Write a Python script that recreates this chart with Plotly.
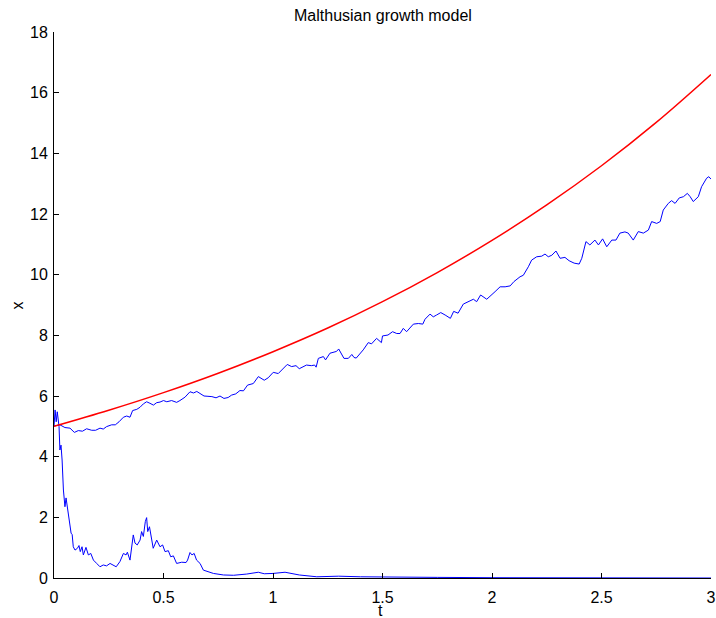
import plotly.graph_objects as go

# Deterministic solution (red)
t_det = [0, 0.25, 0.5, 0.75, 1.0, 1.25, 1.5, 1.75, 2.0, 2.25, 2.5, 2.75, 3.0]
x_det = [5.0, 5.53, 6.11, 6.75, 7.46, 8.24, 9.11, 10.07, 11.13, 12.30, 13.59, 15.02, 16.60]

# Stochastic path 1 (upper, blue)
t_up = [0, 0.027, 0.05, 0.073, 0.093, 0.111, 0.13, 0.149, 0.172, 0.19, 0.21, 0.225,
        0.24, 0.263, 0.28, 0.297, 0.317, 0.332, 0.347, 0.359, 0.378, 0.393, 0.408,
        0.423, 0.438, 0.454, 0.469, 0.484, 0.5, 0.515, 0.537, 0.56, 0.575, 0.598,
        0.621, 0.637, 0.652, 0.668, 0.685, 0.703, 0.721, 0.74, 0.758, 0.776, 0.795,
        0.811, 0.83, 0.849, 0.865, 0.884, 0.91, 0.933, 0.948, 0.96, 0.978, 1.001,
        1.024, 1.047, 1.065, 1.085, 1.105, 1.12, 1.153, 1.175, 1.19, 1.197, 1.207,
        1.23, 1.24, 1.26, 1.29, 1.3, 1.324, 1.344, 1.36, 1.37, 1.38, 1.412, 1.435,
        1.45, 1.473, 1.495, 1.5, 1.525, 1.546, 1.565, 1.58, 1.595, 1.61, 1.641,
        1.664, 1.684, 1.694, 1.717, 1.732, 1.747, 1.766, 1.786, 1.81, 1.825, 1.845,
        1.869, 1.892, 1.915, 1.93, 1.948, 1.976, 1.999, 2.014, 2.037, 2.06, 2.083,
        2.1, 2.128, 2.143, 2.166, 2.181, 2.204, 2.227, 2.242, 2.257, 2.273, 2.292,
        2.311, 2.333, 2.352, 2.375, 2.398, 2.41, 2.429, 2.447, 2.47, 2.486, 2.505,
        2.524, 2.547, 2.566, 2.584, 2.607, 2.622, 2.645, 2.668, 2.691, 2.714, 2.729,
        2.752, 2.768, 2.782, 2.805, 2.82, 2.836, 2.855, 2.874, 2.892, 2.905, 2.919,
        2.942, 2.957, 2.98, 2.99, 3.0]
x_up = [5.01, 5.05, 4.96, 4.94, 4.80, 4.86, 4.84, 4.92, 4.87, 4.87, 4.94, 4.91,
        4.99, 5.05, 5.05, 5.15, 5.30, 5.34, 5.30, 5.52, 5.56, 5.63, 5.74,
        5.81, 5.76, 5.70, 5.78, 5.80, 5.85, 5.81, 5.85, 5.79, 5.85, 5.96,
        6.14, 6.10, 6.15, 6.07, 6.00, 5.99, 5.98, 5.94, 6.00, 5.92, 5.95,
        6.03, 6.07, 6.18, 6.17, 6.36, 6.41, 6.64, 6.57, 6.52, 6.60, 6.78,
        6.74, 6.91, 7.04, 6.97, 7.00, 6.90, 7.02, 7.00, 7.02, 6.95, 7.24,
        7.30, 7.19, 7.41, 7.47, 7.55, 7.24, 7.24, 7.37, 7.27, 7.25, 7.52, 7.76,
        7.72, 7.90, 7.76, 7.98, 8.01, 8.12, 8.06, 8.06, 8.23, 8.12, 8.37,
        8.39, 8.37, 8.53, 8.70, 8.61, 8.67, 8.75, 8.67, 8.56, 8.79, 8.73,
        9.03, 9.10, 9.19, 9.11, 9.33, 9.19, 9.33, 9.44, 9.60, 9.60, 9.63,
        9.77, 9.93, 9.98, 10.26, 10.48, 10.59, 10.61, 10.68, 10.59, 10.64, 10.78,
        10.54, 10.57, 10.46, 10.38, 10.35, 10.54, 11.09, 10.98, 11.14, 10.98, 11.18,
        10.92, 11.14, 11.14, 11.37, 11.41, 11.37, 11.14, 11.42, 11.37, 11.47, 11.75,
        11.69, 11.75, 12.13, 12.35, 12.44, 12.35, 12.53, 12.57, 12.68, 12.57, 12.41,
        12.57, 12.90, 13.18, 13.23, 13.15]

# Stochastic path 2 (lower, blue)
t_lo = [0, 0.005, 0.01, 0.015, 0.023, 0.027, 0.032, 0.037, 0.043, 0.05, 0.055,
        0.061, 0.068, 0.078, 0.083, 0.088, 0.096, 0.107, 0.114, 0.12, 0.128, 0.134,
        0.146, 0.157, 0.168, 0.18, 0.195, 0.21, 0.225, 0.24, 0.256, 0.271, 0.284,
        0.301, 0.317, 0.329, 0.335, 0.347, 0.362, 0.37, 0.38, 0.393, 0.4, 0.408,
        0.412, 0.417, 0.423, 0.428, 0.436, 0.446, 0.453, 0.469, 0.484, 0.496, 0.507,
        0.522, 0.533, 0.545, 0.56, 0.583, 0.603, 0.61, 0.621, 0.63, 0.64, 0.651,
        0.667, 0.682, 0.705, 0.728, 0.774, 0.82, 0.88, 0.933, 0.96, 1.0, 1.055,
        1.12, 1.2, 1.26, 1.3, 1.4, 1.5, 1.75, 2.0, 2.5, 3.0]
x_lo = [5.0, 5.54, 5.15, 5.48, 4.99, 4.22, 4.38, 3.89, 2.90, 2.35, 2.64,
        2.31, 2.02, 1.48, 1.43, 1.03, 0.92, 0.98, 1.07, 0.87, 1.03, 0.76,
        1.01, 0.76, 0.81, 0.59, 0.48, 0.37, 0.43, 0.40, 0.48, 0.41, 0.37,
        0.54, 0.81, 0.76, 0.85, 0.59, 1.42, 1.15, 1.09, 1.25, 1.53, 1.37,
        1.69, 1.86, 1.99, 1.53, 1.69, 1.25, 0.98, 1.25, 1.03, 1.09, 0.87,
        0.90, 0.70, 0.73, 0.48, 0.52, 0.51, 0.59, 0.84, 0.76, 0.81, 0.59,
        0.48, 0.26, 0.21, 0.15, 0.10, 0.09, 0.13, 0.19, 0.14, 0.15, 0.19,
        0.10, 0.04, 0.06, 0.06, 0.04, 0.03, 0.02, 0.01, 0.005, 0.0]

x_ticks = [0, 0.5, 1, 1.5, 2, 2.5, 3]
x_ticklabels = ["0", "0.5", "1", "1.5", "2", "2.5", "3"]
y_ticks = [0, 2, 4, 6, 8, 10, 12, 14, 16, 18]
y_ticklabels = ["0", "2", "4", "6", "8", "10", "12", "14", "16", "18"]

FONT = "Liberation Sans, Arial, sans-serif"
FS = 16

fig = go.Figure()
fig.add_trace(go.Scatter(x=t_up, y=x_up, mode="lines",
                         line=dict(color="#0000FF", width=1), showlegend=False))
fig.add_trace(go.Scatter(x=t_lo, y=x_lo, mode="lines",
                         line=dict(color="#0000FF", width=1), showlegend=False))
fig.add_trace(go.Scatter(x=t_det, y=x_det, mode="lines",
                         line=dict(color="#FF0000", width=1.5, shape="spline"),
                         showlegend=False))

axis_common = dict(showgrid=False, zeroline=False, showline=True, linecolor="#000000",
                   linewidth=1, ticks="inside", ticklen=5, tickcolor="#000000",
                   automargin=False,
                   tickfont=dict(family=FONT, size=FS, color="#000000"), mirror=False)

fig.update_layout(
    width=716, height=618,
    margin=dict(l=54, r=5, t=32, b=40, pad=0, autoexpand=False),
    paper_bgcolor="white", plot_bgcolor="white",
    font=dict(family=FONT, color="#000000"),
    xaxis=dict(range=[0, 3], tickmode="array", tickvals=x_ticks,
               ticktext=x_ticklabels, ticklabelstandoff=5, **axis_common),
    yaxis=dict(range=[0, 18], tickmode="array", tickvals=y_ticks,
               ticktext=y_ticklabels, ticklabelstandoff=2, **axis_common),
)

fig.add_annotation(text="Malthusian growth model", xref="paper", yref="paper",
                   x=0.5, y=1 + 17 / 546, showarrow=False, yanchor="middle",
                   font=dict(family=FONT, size=FS, color="#000000"))
fig.add_annotation(text="t", xref="paper", yref="paper",
                   x=(380 - 54) / 657, y=-(610 - 578) / 546, showarrow=False,
                   yanchor="middle", font=dict(family=FONT, size=FS, color="#000000"))
fig.add_annotation(text="x", xref="paper", yref="paper",
                   x=-(54 - 16.5) / 657, y=(578 - 306) / 546, showarrow=False,
                   textangle=-90, yanchor="middle", xanchor="center",
                   font=dict(family=FONT, size=FS, color="#000000"))

fig.write_html("out.html", config={"displayModeBar": False},
               post_script="document.body.style.margin='0px';document.body.style.overflow='hidden';")
